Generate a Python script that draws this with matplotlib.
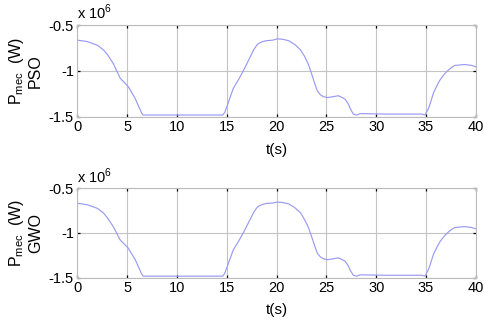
import matplotlib
matplotlib.use("Agg")
import matplotlib.pyplot as plt
from matplotlib.ticker import FuncFormatter

# time (s) and mechanical power (x 1e6 W)
t_pso = [0, 1.0, 2.0, 2.6, 3.0, 3.6, 4.3, 5.1, 5.8, 6.45, 6.6, 10, 14.6, 14.8, 15.0,
         15.65, 16.2, 16.7, 17.2, 17.7, 18.0, 18.2, 18.6, 19.0, 19.6, 20.1, 20.6,
         21.2, 21.8, 22.4, 22.8, 23.2, 23.6, 23.9, 24.1, 24.4, 24.7, 25.1, 25.7,
         26.2, 26.6, 26.9, 27.2, 27.4, 27.7, 28.05, 28.4, 31.0, 34.6, 34.9, 35.25,
         35.5, 35.75, 36.1, 36.4, 36.8, 37.25, 37.6, 37.9, 38.9, 39.6, 40]
p_pso = [-0.665, -0.68, -0.72, -0.77, -0.82, -0.92, -1.08, -1.17, -1.30, -1.46,
         -1.48, -1.48, -1.48, -1.45, -1.39, -1.19, -1.09, -0.99, -0.88, -0.77,
         -0.72, -0.70, -0.68, -0.67, -0.665, -0.65, -0.655, -0.67, -0.71, -0.77,
         -0.84, -0.93, -1.06, -1.16, -1.22, -1.26, -1.28, -1.29, -1.28, -1.27,
         -1.29, -1.31, -1.36, -1.41, -1.47, -1.48, -1.465, -1.47, -1.47, -1.48,
         -1.41, -1.33, -1.24, -1.16, -1.10, -1.04, -0.99, -0.96, -0.94, -0.93,
         -0.94, -0.955]

t_gwo = [0, 1.0, 2.0, 2.6, 3.0, 3.6, 4.3, 5.1, 5.8, 6.45, 6.6, 10, 14.6, 14.8, 15.0,
         15.65, 16.2, 16.7, 17.2, 17.7, 18.0, 18.2, 18.6, 19.0, 19.6, 20.1, 20.6,
         21.2, 21.8, 22.4, 22.8, 23.2, 23.6, 23.9, 24.1, 24.4, 24.7, 25.1, 25.7,
         26.2, 26.6, 26.9, 27.2, 27.4, 27.7, 28.05, 28.4, 31.0, 34.6, 34.9, 35.25,
         35.5, 35.75, 36.1, 36.4, 36.8, 37.25, 37.6, 37.9, 38.9, 39.6, 40]
p_gwo = [-0.668, -0.685, -0.725, -0.775, -0.83, -0.93, -1.08, -1.17, -1.30, -1.46,
         -1.485, -1.485, -1.485, -1.45, -1.39, -1.19, -1.09, -0.99, -0.88, -0.77,
         -0.72, -0.70, -0.68, -0.67, -0.665, -0.655, -0.66, -0.675, -0.715, -0.775,
         -0.85, -0.94, -1.07, -1.17, -1.23, -1.27, -1.29, -1.30, -1.29, -1.28,
         -1.30, -1.32, -1.37, -1.42, -1.475, -1.485, -1.47, -1.475, -1.475, -1.485,
         -1.41, -1.33, -1.24, -1.16, -1.10, -1.04, -0.99, -0.96, -0.94, -0.93,
         -0.94, -0.955]

xticks = [0, 5, 10, 15, 20, 25, 30, 35, 40]
yticks = [-1.5, -1, -0.5]
labels = ["PSO", "GWO"]

plt.rcParams['font.family'] = ['Liberation Sans', 'DejaVu Sans']
fig = plt.figure(figsize=(4.84, 3.21), dpi=100)

rects = [[0.160, 0.636, 0.823, 0.286], [0.160, 0.1355, 0.823, 0.278]]
series = [(t_pso, p_pso), (t_gwo, p_gwo)]
fs = 10.5

for rect, (t, p), lab in zip(rects, series, labels):
    ax = fig.add_axes(rect)
    ax.plot(t, p, color='#9a9af5', lw=0.85)
    ax.set_xlim(0, 40)
    ax.set_ylim(-1.5, -0.5)
    ax.set_xticks(xticks)
    ax.set_yticks(yticks)
    ax.yaxis.set_major_formatter(FuncFormatter(lambda v, pos: f"{v:g}"))
    ax.grid(True, color='#c4c4c4', lw=0.8)
    for s in ax.spines.values():
        s.set_color('#bcbcbc')
        s.set_linewidth(0.8)
    ax.tick_params(direction='in', length=2.5, width=0.9, color='black',
                   top=True, right=True, labelsize=fs, pad=2.5)
    ax.set_xlabel("t(s)", fontsize=fs + 0.5, labelpad=6)
    ax.set_ylabel("P$_{\\mathregular{mec}}$  (W)\n" + lab, fontsize=11.5,
                  linespacing=1.2, labelpad=4)
    ax.text(0.0, 1.03, "x 10$^{\\mathregular{6}}$", transform=ax.transAxes,
            fontsize=fs, ha='left', va='bottom')

fig.savefig("out.png", dpi=100)
